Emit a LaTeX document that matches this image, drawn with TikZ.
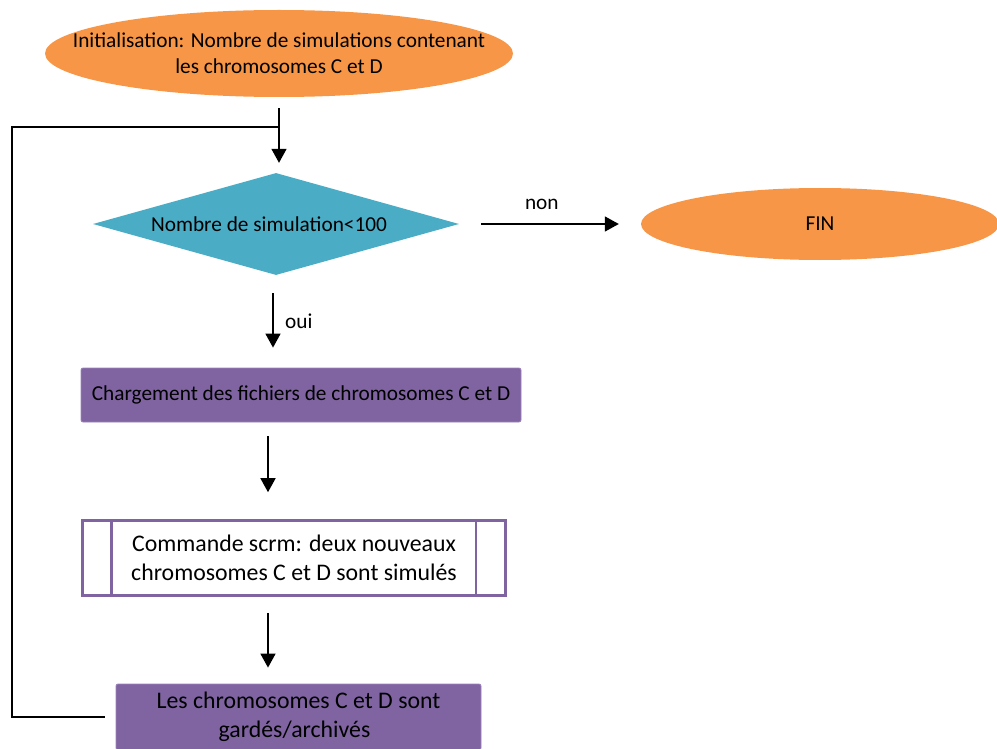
\documentclass[tikz,border=0pt]{standalone}
\usepackage{fontspec}
\setmainfont{Carlito}
\usetikzlibrary{shapes.geometric,arrows.meta}

\definecolor{orangeinit}{HTML}{F79646}
\definecolor{tealtest}{HTML}{4BACC6}
\definecolor{purplebox}{HTML}{8064A2}
\definecolor{purpleedge}{HTML}{9A82BA}

\tikzset{
  startstop/.style={ellipse, fill=orangeinit, inner ysep=0pt, align=center},
  testbox/.style={diamond, aspect=3.6, fill=tealtest, inner sep=0pt, align=center},
  actionbox/.style={rectangle, fill=purplebox, draw=purpleedge, line width=0.8pt,
    rounded corners=2pt, inner sep=0pt, align=center},
  procbox/.style={rectangle, fill=white, draw=purplebox, line width=2.6pt,
    inner sep=0pt, align=center},
  bigtext/.style={font={\fontsize{23.8}{29.5}\selectfont}},
  flowarrow/.style={line width=1.6pt, -{Triangle[length=14pt,width=15pt]}},
  loopline/.style={line width=1.2pt}
}

\begin{document}
\begin{tikzpicture}[x=1pt, y=-1pt, font={\fontsize{21.3}{26}\selectfont}]

\useasboundingbox (0,0) rectangle (997,749);

% nodes of the flow
\node [startstop, inner xsep=-42pt, minimum width=468pt, minimum height=87pt] (init) at (279,53.5)
  {Initialisation: Nombre de simulations contenant\\les chromosomes C et D};

\node [testbox, minimum width=366pt, minimum height=102pt] (test) at (276,224)
  {Nombre de simulation<100\hspace*{14pt}};

\node [startstop, inner xsep=0pt, minimum width=358pt, minimum height=72pt] (fin) at (820,224) {FIN};

\node [actionbox, minimum width=440pt, minimum height=54pt] (load) at (301,395)
  {Chargement des fichiers de chromosomes C et D};

\node [procbox, bigtext, minimum width=423pt, minimum height=75pt] (scrm) at (294,558)
  {Commande scrm: deux nouveaux\\chromosomes C et D sont simulés};
\draw [purplebox, line width=2.6pt] ([xshift=30pt]scrm.north west) -- ([xshift=30pt]scrm.south west);
\draw [purplebox, line width=2.6pt] ([xshift=-31pt]scrm.north east) -- ([xshift=-31pt]scrm.south east);

\node [actionbox, bigtext, minimum width=365pt, minimum height=66pt] (keep) at (298.5,717)
  {Les chromosomes C et D sont\\gardés/archivés\hspace*{8pt}};

% connectors
\coordinate (corner) at (12,127);
\coordinate (join) at (279,127);

\draw [flowarrow, shorten <=11pt, shorten >=10pt] (init.south) -- (init.south |- test.north);

\draw [loopline, shorten <=11pt] (keep.west) -| (corner) -- (join);

\draw [flowarrow, shorten <=22pt, shorten >=22pt] (test.east) -- (fin.west)
  node [pos=0.455, above=10pt] {non};

\draw [flowarrow, shorten <=18pt, shorten >=20pt] ([xshift=-3pt]test.south) -- ([xshift=-3pt]test.south |- load.north)
  node [midway, right=8pt] {oui};

\draw [flowarrow, shorten <=14pt, shorten >=27pt] ([xshift=-33pt]load.south) -- ([xshift=-33pt]load.south |- scrm.north);

\draw [flowarrow, shorten <=16pt, shorten >=16pt] ([xshift=-26pt]scrm.south) -- ([xshift=-26pt]scrm.south |- keep.north);

\end{tikzpicture}
\end{document}
